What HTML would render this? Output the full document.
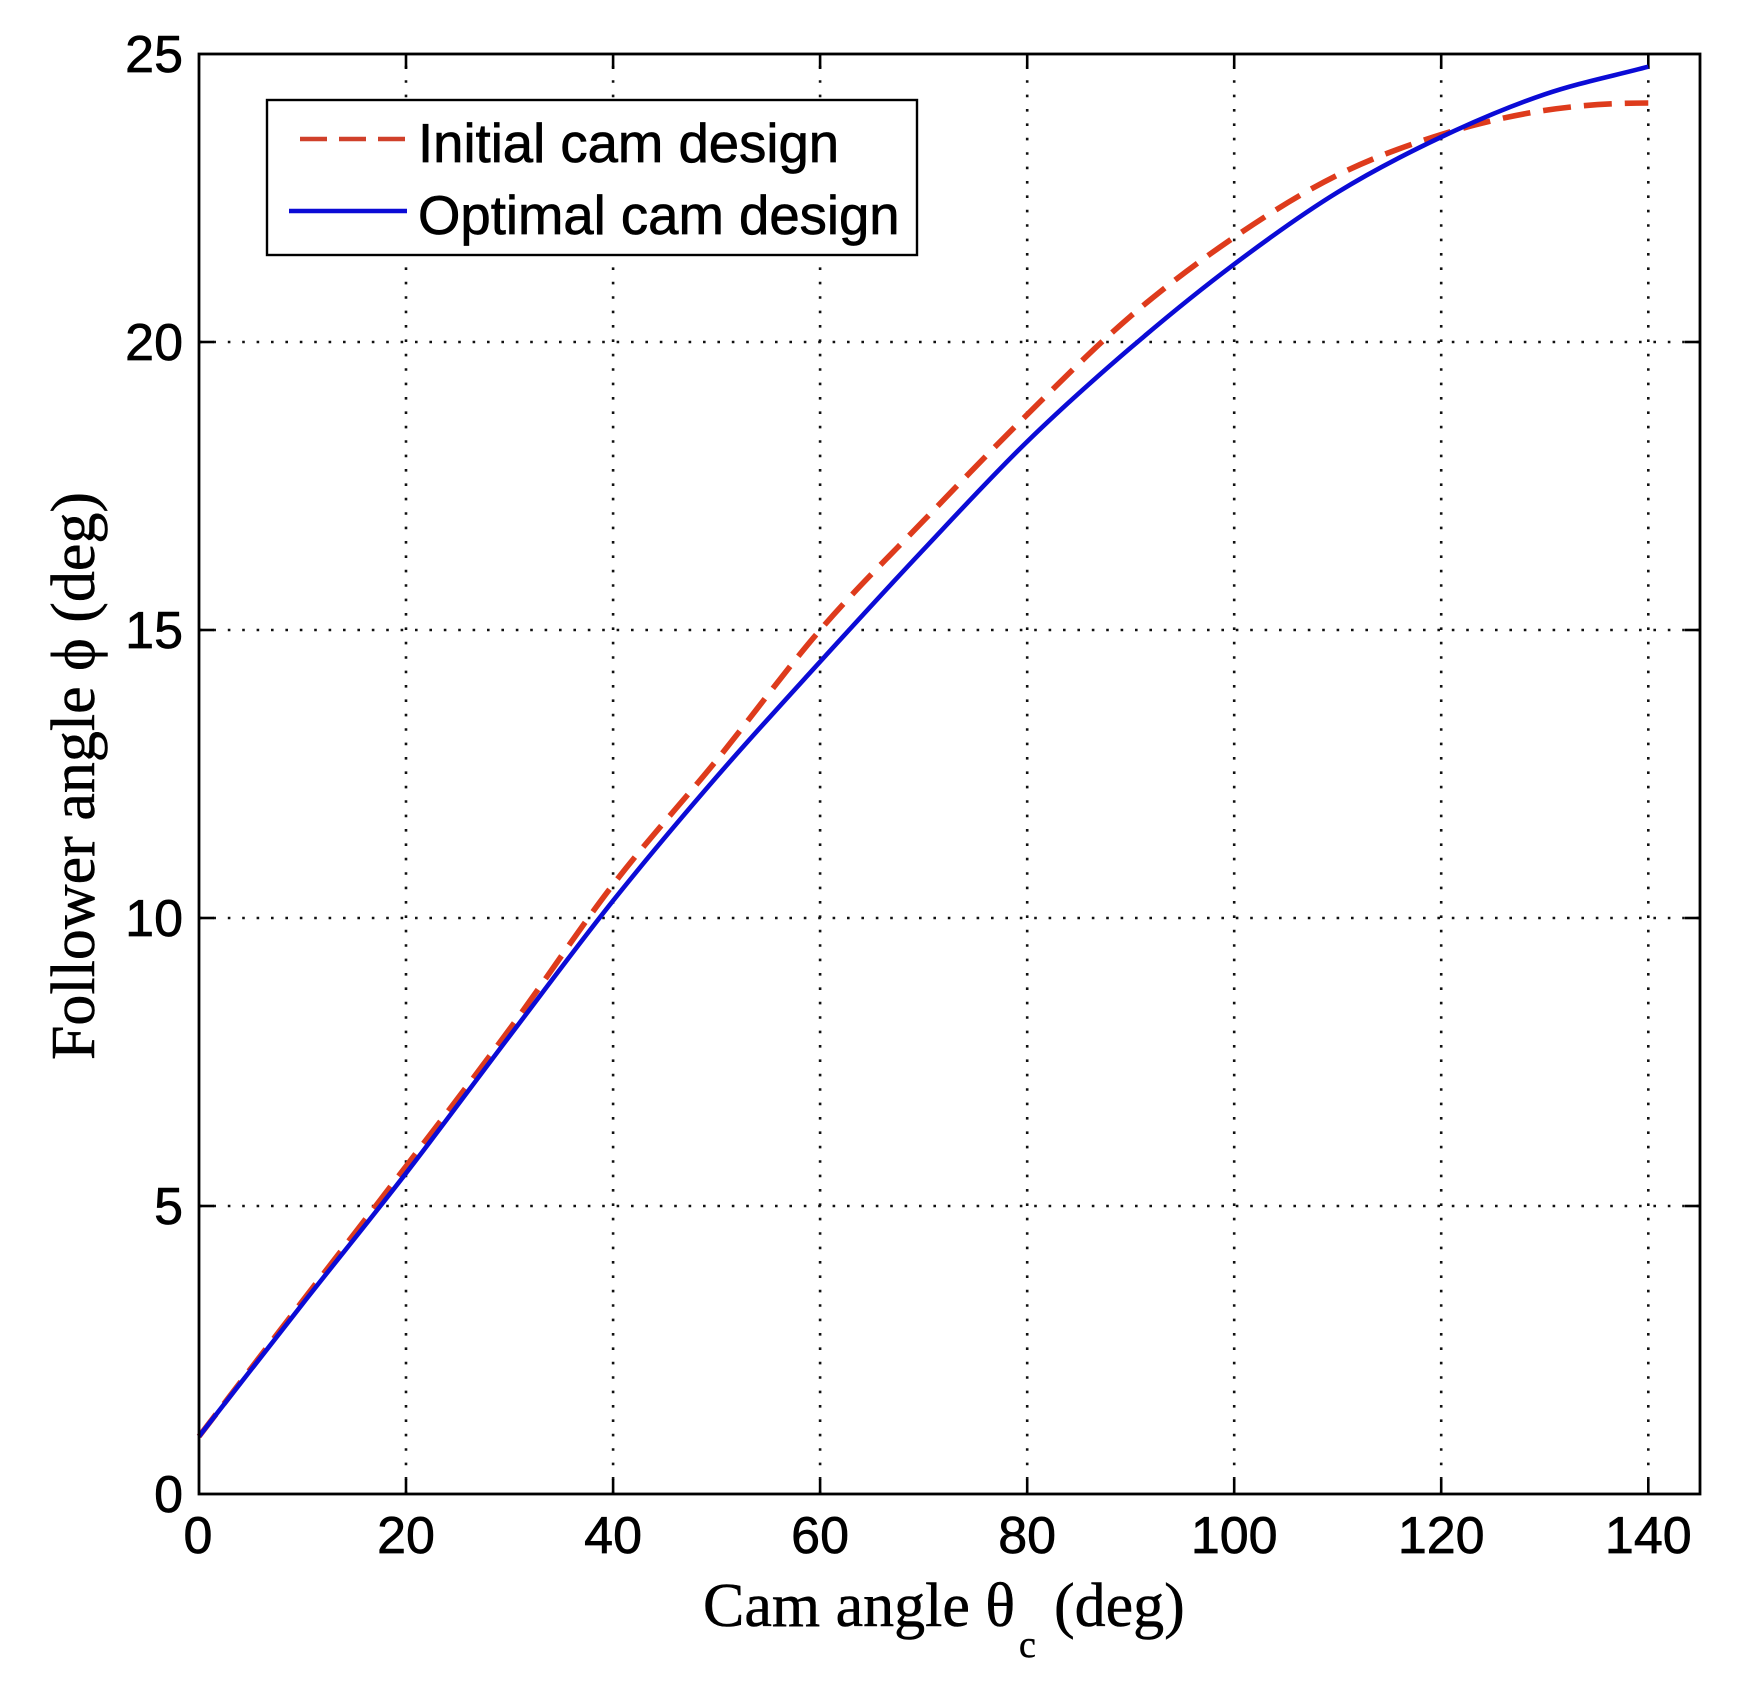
<!DOCTYPE html>
<html>
<head>
<meta charset="utf-8">
<style>
  html,body{margin:0;padding:0;background:#fff;}
  svg{display:block;}
</style>
</head>
<body>
<svg width="1749" height="1686" viewBox="0 0 1749 1686" xmlns="http://www.w3.org/2000/svg">
  <rect x="0" y="0" width="1749" height="1686" fill="#fff"/>

  <!-- grid lines -->
  <g stroke="#111" stroke-width="2.6" stroke-dasharray="2.6 11.8" fill="none">
    <line x1="406" y1="1494" x2="406" y2="54"/>
    <line x1="613.1" y1="1494" x2="613.1" y2="54"/>
    <line x1="820.1" y1="1494" x2="820.1" y2="54"/>
    <line x1="1027.2" y1="1494" x2="1027.2" y2="54"/>
    <line x1="1234.2" y1="1494" x2="1234.2" y2="54"/>
    <line x1="1441.2" y1="1494" x2="1441.2" y2="54"/>
    <line x1="1648.3" y1="1494" x2="1648.3" y2="54"/>
    <line x1="199" y1="1206" x2="1700" y2="1206"/>
    <line x1="199" y1="918" x2="1700" y2="918"/>
    <line x1="199" y1="630" x2="1700" y2="630"/>
    <line x1="199" y1="342" x2="1700" y2="342"/>
  </g>

  <!-- ticks -->
  <g stroke="#000" stroke-width="2.6">
    <line x1="406" y1="1494" x2="406" y2="1479"/>
    <line x1="613.1" y1="1494" x2="613.1" y2="1479"/>
    <line x1="820.1" y1="1494" x2="820.1" y2="1479"/>
    <line x1="1027.2" y1="1494" x2="1027.2" y2="1479"/>
    <line x1="1234.2" y1="1494" x2="1234.2" y2="1479"/>
    <line x1="1441.2" y1="1494" x2="1441.2" y2="1479"/>
    <line x1="1648.3" y1="1494" x2="1648.3" y2="1479"/>
    <line x1="406" y1="54" x2="406" y2="69"/>
    <line x1="613.1" y1="54" x2="613.1" y2="69"/>
    <line x1="820.1" y1="54" x2="820.1" y2="69"/>
    <line x1="1027.2" y1="54" x2="1027.2" y2="69"/>
    <line x1="1234.2" y1="54" x2="1234.2" y2="69"/>
    <line x1="1441.2" y1="54" x2="1441.2" y2="69"/>
    <line x1="1648.3" y1="54" x2="1648.3" y2="69"/>
    <line x1="199" y1="1206" x2="214" y2="1206"/>
    <line x1="199" y1="918" x2="214" y2="918"/>
    <line x1="199" y1="630" x2="214" y2="630"/>
    <line x1="199" y1="342" x2="214" y2="342"/>
    <line x1="1700" y1="1206" x2="1685" y2="1206"/>
    <line x1="1700" y1="918" x2="1685" y2="918"/>
    <line x1="1700" y1="630" x2="1685" y2="630"/>
    <line x1="1700" y1="342" x2="1685" y2="342"/>
  </g>

  <!-- red dashed: initial design -->
  <path fill="none" stroke="#de3b1c" stroke-width="5.6" stroke-dasharray="28 13" stroke-linejoin="round"
    d="M199,1436.4 C233.51,1391.27 268.01,1346.02 302.52,1301
       C337.03,1255.98 371.53,1211.6 406.04,1166.3
       C440.55,1121 475.05,1076.15 509.56,1029.2
       C544.07,982.25 578.57,929.43 613.08,884.6
       C647.59,839.77 682.09,802.63 716.6,760.2
       C751.11,717.77 785.61,669.93 820.12,630
       C854.63,590.07 889.13,556.5 923.64,520.6
       C958.15,484.7 992.65,448.68 1027.16,414.6
       C1061.67,380.52 1096.17,345.67 1130.68,316.1
       C1165.19,286.53 1199.69,260.72 1234.2,237.2
       C1268.71,213.68 1303.21,192.1 1337.72,175
       C1372.23,157.9 1406.73,145.37 1441.24,134.6
       C1475.75,123.83 1510.25,115.67 1544.76,110.4
       C1579.27,105.13 1613.77,103 1648.28,103"/>

  <!-- blue solid: optimal design -->
  <path fill="none" stroke="#0b0bd6" stroke-width="4.6" stroke-linejoin="round"
    d="M199,1436.4 C233.51,1392.23 268.01,1347.77 302.52,1303.9
       C337.03,1260.03 371.53,1217.83 406.04,1173.2
       C440.55,1128.57 475.05,1081.52 509.56,1036.1
       C544.07,990.68 578.57,943.9 613.08,900.7
       C647.59,857.5 682.09,816.73 716.6,776.9
       C751.11,737.07 785.61,699.62 820.12,661.7
       C854.63,623.78 889.13,586.08 923.64,549.4
       C958.15,512.72 992.65,475.2 1027.16,441.6
       C1061.67,408 1096.17,377.37 1130.68,347.8
       C1165.19,318.23 1199.69,290.13 1234.2,264.2
       C1268.71,238.27 1303.21,213.4 1337.72,192.2
       C1372.23,171 1406.73,153.32 1441.24,137
       C1475.75,120.68 1510.25,106.02 1544.76,94.3
       C1579.27,82.58 1613.77,75.9 1648.28,66.7"/>

  <!-- axes box -->
  <rect x="199" y="54" width="1501" height="1440" fill="none" stroke="#000" stroke-width="2.8"/>

  <!-- legend -->
  <rect x="267" y="100" width="650" height="155" fill="#fff" stroke="#000" stroke-width="2.4"/>
  <line x1="300" y1="139" x2="407" y2="139" stroke="#d0402a" stroke-width="4.5" stroke-dasharray="27 12"/>
  <line x1="289" y1="211" x2="407" y2="211" stroke="#0b0bd6" stroke-width="4.5"/>
  <g font-family="'Liberation Sans', Arial, sans-serif" font-size="54.5" fill="#000" stroke="#000" stroke-width="0.7">
    <text x="418" y="162">Initial cam design</text>
    <text x="418" y="234">Optimal cam design</text>
  </g>

  <!-- y tick labels -->
  <g font-family="'Liberation Sans', Arial, sans-serif" font-size="52" fill="#000" stroke="#000" stroke-width="0.7" text-anchor="end">
    <text x="183" y="1512">0</text>
    <text x="183" y="1224">5</text>
    <text x="183" y="936">10</text>
    <text x="183" y="648">15</text>
    <text x="183" y="360">20</text>
    <text x="183" y="72">25</text>
  </g>

  <!-- x tick labels -->
  <g font-family="'Liberation Sans', Arial, sans-serif" font-size="52" fill="#000" stroke="#000" stroke-width="0.7" text-anchor="middle">
    <text x="198" y="1553">0</text>
    <text x="406" y="1553">20</text>
    <text x="613.1" y="1553">40</text>
    <text x="820.1" y="1553">60</text>
    <text x="1027.2" y="1553">80</text>
    <text x="1234.2" y="1553">100</text>
    <text x="1441.2" y="1553">120</text>
    <text x="1648.3" y="1553">140</text>
  </g>

  <!-- x label -->
  <g font-family="'Liberation Serif', 'DejaVu Serif', serif" fill="#000" stroke="#000" stroke-width="0.5">
    <text x="703" y="1626" font-size="62">Cam angle θ</text>
    <text x="1019" y="1657" font-size="38">c</text>
    <text x="1054" y="1626" font-size="62">(deg)</text>
  </g>

  <!-- y label -->
  <text transform="translate(94,776) rotate(-90)" text-anchor="middle"
        font-family="'Liberation Serif', 'DejaVu Serif', serif" font-size="62" fill="#000" stroke="#000" stroke-width="0.5">Follower angle ϕ (deg)</text>
</svg>
</body>
</html>
